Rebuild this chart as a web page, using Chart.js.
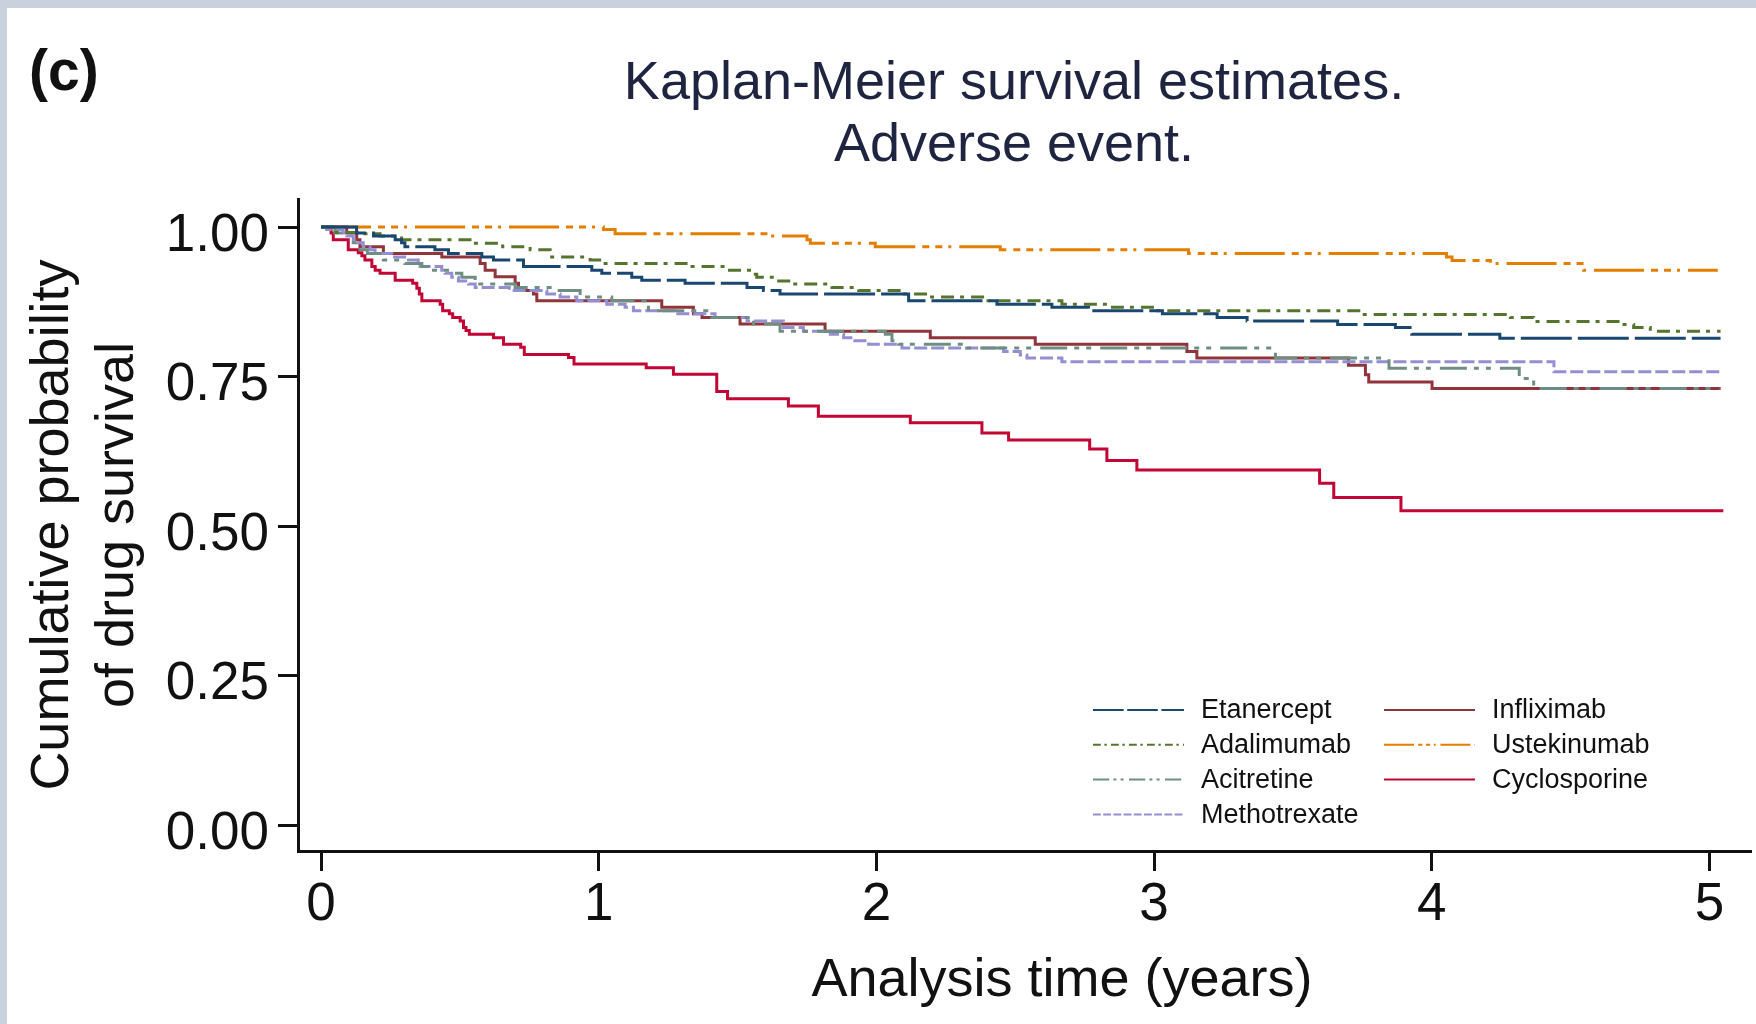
<!DOCTYPE html>
<html>
<head>
<meta charset="utf-8">
<script src="https://cdn.jsdelivr.net/npm/chart.js@4.4.1/dist/chart.umd.min.js"></script>
<style>
  html, body { margin: 0; padding: 0; background: #c8d1dc; }
  #sheet { position: absolute; left: 7px; top: 8px; right: 0; bottom: 0; background: #fff; }
  #km { position: absolute; left: 0; top: 0; }
</style>
</head>
<body>
<div id="sheet"></div>
<canvas id="km" width="1756" height="1024"></canvas>
<script>
// Kaplan-Meier step points [years, survival]
const etanercept = [[0,1],[0.128,0.990],[0.189,0.985],[0.267,0.979],[0.29,0.974],[0.302,0.967],[0.41,0.962],[0.459,0.956],[0.579,0.950],[0.621,0.945],[0.729,0.934],[0.975,0.928],[1.011,0.923],[1.119,0.916],[1.155,0.911],[1.311,0.906],[1.534,0.899],[1.593,0.894],[1.653,0.888],[2.116,0.877],[2.434,0.871],[2.632,0.866],[2.764,0.860],[3.03,0.855],[3.227,0.849],[3.335,0.843],[3.661,0.837],[3.869,0.832],[3.928,0.821],[4.245,0.814],[5.04,0.814]];
const adalimumab = [[0,1],[0.044,0.991],[0.152,0.989],[0.2125,0.985],[0.29,0.979],[0.546,0.973],[0.654,0.967],[0.753,0.962],[0.825,0.950],[0.969,0.945],[1.023,0.939],[1.323,0.934],[1.461,0.928],[1.557,0.921],[1.569,0.916],[1.639,0.910],[1.70,0.905],[1.84,0.899],[1.936,0.894],[2.092,0.888],[2.19,0.883],[2.395,0.877],[2.668,0.871],[2.836,0.866],[3.004,0.860],[3.749,0.854],[4.283,0.849],[4.367,0.842],[4.679,0.837],[4.727,0.832],[4.787,0.826],[5.04,0.826]];
const acitretine = [[0,1],[0.05,0.990],[0.116,0.974],[0.128,0.967],[0.14,0.962],[0.167,0.956],[0.2125,0.950],[0.224,0.945],[0.302,0.939],[0.363,0.934],[0.387,0.928],[0.465,0.923],[0.507,0.916],[0.555,0.905],[0.699,0.899],[0.849,0.894],[0.933,0.883],[1.047,0.877],[1.179,0.860],[1.407,0.849],[1.557,0.838],[1.653,0.826],[2.032,0.821],[2.056,0.810],[2.08,0.804],[2.326,0.798],[3.437,0.781],[3.846,0.764],[4.315,0.747],[4.367,0.730],[5.04,0.730]];
const methotrexate = [[0,1],[0.02,0.996],[0.08,0.990],[0.0925,0.985],[0.116,0.979],[0.1285,0.974],[0.152,0.967],[0.1765,0.962],[0.1945,0.956],[0.2546,0.950],[0.3146,0.945],[0.35,0.939],[0.3566,0.934],[0.4347,0.928],[0.4467,0.923],[0.4707,0.916],[0.4947,0.910],[0.5307,0.905],[0.555,0.899],[0.678,0.894],[0.813,0.888],[0.861,0.883],[0.921,0.877],[1.029,0.871],[1.095,0.866],[1.125,0.860],[1.275,0.855],[1.419,0.849],[1.534,0.843],[1.665,0.832],[1.737,0.826],[1.834,0.821],[1.882,0.815],[1.917,0.810],[1.972,0.804],[2.092,0.798],[2.458,0.792],[2.518,0.786],[2.542,0.781],[2.668,0.775],[4.44,0.758],[5.04,0.758]];
const infliximab = [[0,1],[0.0925,0.990],[0.1285,0.979],[0.14,0.967],[0.2245,0.956],[0.435,0.950],[0.573,0.939],[0.591,0.928],[0.627,0.917],[0.699,0.906],[0.711,0.894],[0.765,0.888],[0.777,0.877],[1.227,0.866],[1.341,0.855],[1.372,0.849],[1.509,0.838],[1.815,0.826],[2.194,0.815],[2.572,0.804],[3.118,0.792],[3.154,0.781],[3.70,0.769],[3.761,0.753],[3.773,0.741],[4.001,0.730],[5.04,0.730]];
const ustekinumab = [[0,1],[1.017,0.996],[1.059,0.989],[1.617,0.985],[1.75,0.979],[1.762,0.973],[1.996,0.967],[2.446,0.962],[3.124,0.956],[4.053,0.950],[4.073,0.944],[4.211,0.939],[4.547,0.928],[5.03,0.928]];
const cyclosporine = [[0,1],[0.036,0.990],[0.044,0.979],[0.098,0.962],[0.134,0.957],[0.147,0.952],[0.158,0.945],[0.183,0.934],[0.195,0.928],[0.2125,0.923],[0.267,0.911],[0.330,0.906],[0.345,0.898],[0.354,0.888],[0.363,0.877],[0.429,0.871],[0.438,0.860],[0.462,0.855],[0.474,0.849],[0.501,0.843],[0.513,0.832],[0.522,0.827],[0.534,0.821],[0.621,0.815],[0.657,0.804],[0.719,0.799],[0.732,0.787],[0.891,0.782],[0.911,0.771],[1.171,0.765],[1.269,0.754],[1.425,0.725],[1.464,0.713],[1.683,0.701],[1.791,0.684],[2.122,0.673],[2.380,0.656],[2.476,0.644],[2.768,0.629],[2.830,0.610],[2.938,0.594],[3.596,0.572],[3.647,0.548],[3.889,0.526],[5.05,0.526]];

const drugNames = ['Etanercept', 'Adalimumab', 'Acitretine', 'Methotrexate', 'Infliximab', 'Ustekinumab', 'Cyclosporine'];
const drugCurves = [etanercept, adalimumab, acitretine, methotrexate, infliximab, ustekinumab, cyclosporine];
const drugColors = ['#1a476f', '#55752f', '#6e8e84', '#938fd2', '#90353b', '#e37e00', '#c10534'];
const drugDashes = [[51, 6], [13, 6, 4, 7], [27, 7, 5, 7, 5, 9], [13, 4], [], [50, 7, 7, 6, 7, 6, 3, 8], []];

const xTicks = [0, 1, 2, 3, 4, 5];
const yTicks = [0, 0.25, 0.5, 0.75, 1];
const titleLines = ['Kaplan-Meier survival estimates.', 'Adverse event.'];
const yTitle = ['Cumulative probability', 'of drug survival'];
const xTitle = 'Analysis time (years)';
const panelLabel = '(c)';

const ink = '#111111';
const mainFont = '"Liberation Sans", Arial, sans-serif';

function pickLegendFont() {
    const c = document.createElement('canvas').getContext('2d');
    c.font = '33px "Liberation Sans Narrow", "Liberation Sans"';
    const narrow = c.measureText('Methotrexate').width;
    c.font = '33px "Liberation Sans"';
    const wide = c.measureText('Methotrexate').width;
    return narrow < wide * 0.9 ? '33px "Liberation Sans Narrow"' : '27px "Liberation Sans"';
}
const legendFont = pickLegendFont();

// titles, panel letter and the two-column legend
const figureText = {
    id: 'figureText',
    afterDraw(chart) {
        const ctx = chart.ctx;
        ctx.save();
        ctx.textBaseline = 'middle';

        ctx.fillStyle = ink;
        ctx.textAlign = 'left';
        ctx.font = 'bold 57px ' + mainFont;
        ctx.fillText(panelLabel, 29, 74);

        ctx.textAlign = 'center';
        ctx.font = '54px ' + mainFont;
        ctx.fillStyle = '#1f2540';
        titleLines.forEach((line, i) => ctx.fillText(line, 1014, 84 + i * 62));

        ctx.fillStyle = ink;
        ctx.fillText(xTitle, 1062, 981);

        const lineX = [1093, 1384];
        const textX = [1201, 1492];
        chart.data.datasets.forEach((ds, i) => {
            const col = i < 4 ? 0 : 1;
            const row = i < 4 ? i : i - 4;
            const y = 710 + row * 34.8;
            ctx.strokeStyle = ds.borderColor;
            ctx.lineWidth = 2;
            ctx.setLineDash(ds.borderDash.map(d => d * 0.6));
            ctx.beginPath();
            ctx.moveTo(lineX[col], y);
            ctx.lineTo(lineX[col] + 91, y);
            ctx.stroke();
            ctx.setLineDash([]);
            ctx.fillStyle = ink;
            ctx.textAlign = 'left';
            ctx.font = legendFont;
            ctx.fillText(ds.label, textX[col], y + 1);
        });
        ctx.restore();
    }
};

const datasets = drugNames.map((name, i) => ({
    label: name,
    data: drugCurves[i].map(([t, s]) => ({ x: t, y: s })),
    borderColor: drugColors[i],
    borderDash: drugDashes[i],
    borderWidth: 3,
    stepped: 'before',
    pointRadius: 0,
    fill: false
}));

new Chart(document.getElementById('km'), {
    type: 'line',
    data: { datasets },
    options: {
        responsive: false,
        animation: false,
        devicePixelRatio: 1,
        layout: { padding: { top: 199, right: 6, left: 0, bottom: 0 } },
        plugins: {
            legend: { display: false },
            title: { display: false },
            tooltip: { enabled: false }
        },
        scales: {
            x: {
                type: 'linear',
                min: -0.083,
                max: 5.146,
                afterBuildTicks: scale => { scale.ticks = xTicks.map(v => ({ value: v })); },
                afterFit: scale => { scale.height = 173; },
                ticks: {
                    color: ink,
                    padding: 3,
                    font: { family: mainFont, size: 53 },
                    callback: v => String(v)
                },
                grid: { drawOnChartArea: false, drawTicks: true, tickLength: 20, lineWidth: 3, color: ink },
                border: { display: true, width: 3, color: ink }
            },
            y: {
                type: 'linear',
                min: -0.043,
                max: 1.047,
                afterBuildTicks: scale => { scale.ticks = yTicks.map(v => ({ value: v })); },
                afterFit: scale => { scale.width = 298; },
                ticks: {
                    color: ink,
                    padding: 9,
                    labelOffset: 9,
                    font: { family: mainFont, size: 53 },
                    callback: v => Number(v).toFixed(2)
                },
                grid: { drawOnChartArea: false, drawTicks: true, tickLength: 20, lineWidth: 3, color: ink },
                border: { display: true, width: 3, color: ink },
                title: {
                    display: true,
                    text: yTitle,
                    color: ink,
                    font: { family: mainFont, size: 54 },
                    padding: { top: 21, bottom: 0 }
                }
            }
        }
    },
    plugins: [figureText]
});
</script>
</body>
</html>
